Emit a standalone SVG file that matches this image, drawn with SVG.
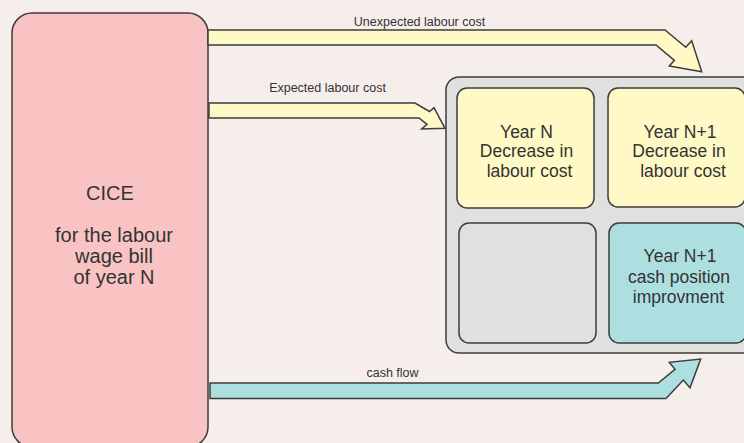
<svg xmlns="http://www.w3.org/2000/svg" width="744" height="443" viewBox="0 0 744 443">
  <style>
    .box { stroke: #3d3d3d; stroke-width: 1.5; }
    .cice { fill: #f9c3c3; }
    .panel { fill: #e0e0df; }
    .yellow { fill: #fff9c5; }
    .grey { fill: #e0e0df; }
    .teal { fill: #aedfe0; }
    .flow { stroke: #3d3d3d; stroke-width: 1.5; stroke-linejoin: miter; }
    text { font-family: "Liberation Sans", Arial, sans-serif; fill: #333333; text-anchor: middle; }
    .big { font-size: 20px; }
    .mid { font-size: 17.5px; }
    .small { font-size: 12.5px; }
  </style>

  <rect width="744" height="443" fill="#f6eeeb"/>

  <!-- Source node -->
  <g id="cice">
    <rect class="box cice" x="12" y="13" width="196" height="434" rx="20"/>
    <text class="big" x="110" y="200">CICE</text>
    <text class="big" x="114" y="242">for the labour</text>
    <text class="big" x="114" y="263">wage bill</text>
    <text class="big" x="114" y="284">of year N</text>
  </g>

  <!-- Outcome panel -->
  <g id="panel">
    <rect class="box panel" x="446" y="77" width="312" height="276" rx="13"/>
  </g>

  <g id="year-n">
    <rect class="box yellow" x="457" y="88" width="137" height="120" rx="10"/>
    <text class="mid" x="526.5" y="137.5">Year N</text>
    <text class="mid" x="526.5" y="157">Decrease in</text>
    <text class="mid" x="529.5" y="176.5">labour cost</text>
  </g>

  <g id="year-n1-cost">
    <rect class="box yellow" x="608" y="88" width="137" height="119" rx="10"/>
    <text class="mid" x="680" y="137.5">Year N+1</text>
    <text class="mid" x="679" y="157">Decrease in</text>
    <text class="mid" x="683" y="176.5">labour cost</text>
  </g>

  <g id="empty-cell">
    <rect class="box grey" x="459" y="223" width="137" height="120" rx="10"/>
  </g>

  <g id="year-n1-cash">
    <rect class="box teal" x="609" y="223" width="137" height="120" rx="10"/>
    <text class="mid" x="680" y="262">Year N+1</text>
    <text class="mid" x="679" y="282.5">cash position</text>
    <text class="mid" x="678.5" y="303">improvment</text>
  </g>

  <!-- Flows -->
  <g id="connectors">
    <path class="flow yellow" d="M208,30 L665,30 L685.8,47.3 L691.7,40.7 L701.7,71.7 L669.3,66 L674.4,60.3 L656,45 L208,45 Z"/>
    <text class="small" x="419.5" y="26">Unexpected labour cost</text>

    <path class="flow yellow" d="M209,103 L415,103 L429.5,111.5 L434,107.7 L445,128.3 L421.7,129 L427,124.3 L419,118 L209,118 Z"/>
    <text class="small" x="327.5" y="92">Expected labour cost</text>

    <path class="flow teal" d="M210,383 L658.3,383 L675,369.3 L669.3,362.3 L700.7,359 L690,387.7 L683.3,380 L666,398.5 L210,398.5 Z"/>
    <text class="small" x="392.5" y="377">cash flow</text>
  </g>
</svg>
